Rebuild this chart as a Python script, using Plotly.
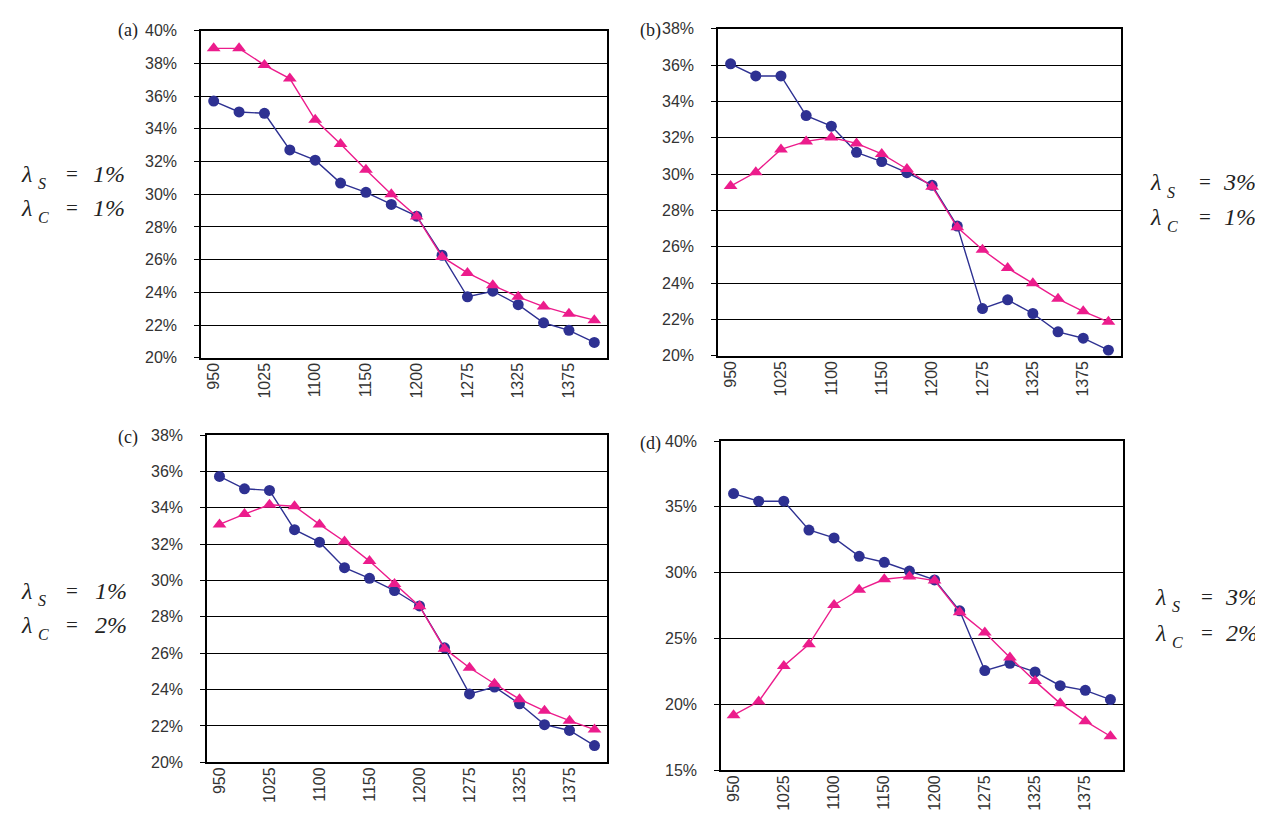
import plotly.graph_objects as go

categories = ["950", "1000", "1025", "1050", "1100", "1125", "1150", "1175",
              "1200", "1250", "1275", "1300", "1325", "1350", "1375", "1400"]
label_categories = categories[::2]

a_blue = [35.7, 35.03, 34.95, 32.71, 32.08, 30.68, 30.12, 29.38, 28.66, 26.27, 23.73, 24.07, 23.25, 22.14, 21.68, 20.94]
a_pink = [38.92, 38.92, 37.9, 37.07, 34.55, 33.07, 31.5, 30.0, 28.64, 26.17, 25.19, 24.43, 23.73, 23.13, 22.69, 22.3]

b_blue = [36.07, 35.4, 35.4, 33.22, 32.64, 31.2, 30.69, 30.08, 29.38, 27.14, 22.6, 23.08, 22.33, 21.32, 20.97, 20.31]
b_pink = [29.34, 30.1, 31.36, 31.8, 32.01, 31.69, 31.11, 30.28, 29.31, 27.07, 25.84, 24.83, 23.99, 23.14, 22.45, 21.87]

c_blue = [35.73, 35.05, 34.96, 32.8, 32.11, 30.71, 30.12, 29.45, 28.6, 26.3, 23.76, 24.14, 23.22, 22.07, 21.75, 20.92]
c_pink = [33.09, 33.66, 34.17, 34.09, 33.09, 32.15, 31.07, 29.81, 28.59, 26.25, 25.2, 24.32, 23.47, 22.83, 22.29, 21.8]

d_blue = [36.01, 35.43, 35.43, 33.24, 32.64, 31.24, 30.79, 30.12, 29.45, 27.1, 22.56, 23.11, 22.46, 21.41, 21.06, 20.36]
d_pink = [19.17, 20.21, 22.91, 24.56, 27.55, 28.7, 29.5, 29.7, 29.4, 27.0, 25.45, 23.56, 21.76, 20.07, 18.72, 17.57]

panel_labels = ["(a)", "(b)", "(c)", "(d)"]
lam_s = ["1%", "3%", "1%", "3%"]
lam_c = ["1%", "1%", "2%", "2%"]

W, H = 1263, 823
BLUE = "#2E3192"
PINK = "#EC1C8C"
TXT = "#333333"

# plot-area boxes in pixels: left, right, top, bottom
boxes = [(193, 599, 15, 349), (710, 1113, 13, 347), (199, 599, 428, 762), (713, 1115, 434, 770)]
yranges = [(20, 40, 2), (20, 38, 2), (20, 38, 2), (15, 40, 5)]
series = [(a_blue, a_pink), (b_blue, b_pink), (c_blue, c_pink), (d_blue, d_pink)]

fig = go.Figure()
layout = dict(width=W, height=H, margin=dict(l=0, r=0, t=0, b=0),
              paper_bgcolor="white", plot_bgcolor="white", showlegend=False,
              font=dict(family="Liberation Sans", size=16, color=TXT))
annotations = []
n = len(categories)

for k in range(4):
    l, r, t, b = boxes[k]
    sfx = "" if k == 0 else str(k + 1)
    xa, ya = "x" + sfx, "y" + sfx
    blue, pink = series[k]
    fig.add_trace(go.Scatter(x=categories, y=blue, xaxis=xa, yaxis=ya, mode="lines+markers",
                             line=dict(color=BLUE, width=1.4),
                             marker=dict(symbol="circle", size=11, color=BLUE)))
    fig.add_trace(go.Scatter(x=categories, y=pink, xaxis=xa, yaxis=ya, mode="lines+markers",
                             line=dict(color=PINK, width=1.4),
                             marker=dict(symbol="triangle-up", size=12, color=PINK)))
    y0, y1, dt = yranges[k]
    layout["xaxis" + sfx] = dict(domain=[l / W, r / W], anchor=ya, type="category",
                                 categoryorder="array", categoryarray=categories,
                                 tickmode="array", tickvals=label_categories,
                                 ticks="", tickangle=-90, showgrid=False,
                                 showline=True, linecolor="black", linewidth=1.5, mirror=True,
                                 range=[-0.5, n - 0.5], ticklabelstandoff=-3,
                                 tickfont=dict(size=16, color=TXT))
    # overlay axis carrying the category-boundary tick marks
    ox = "xaxis" + str(k + 5)
    layout[ox] = dict(domain=[l / W, r / W], anchor=ya, overlaying=xa, side="bottom",
                      type="linear", range=[-0.5, n - 0.5], tick0=-0.5, dtick=1,
                      ticks="outside", ticklen=5, tickcolor="black", showticklabels=False,
                      showgrid=False, zeroline=False, showline=False)
    layout["yaxis" + sfx] = dict(domain=[1 - b / H, 1 - t / H], anchor=xa,
                                 range=[y0, y1], dtick=dt, tick0=y0, ticksuffix="%",
                                 ticks="outside", ticklen=5, tickcolor="black",
                                 showgrid=True, gridcolor="black", gridwidth=1,
                                 showline=True, linecolor="black", linewidth=1.5, mirror=True,
                                 zeroline=False, ticklabelstandoff=14,
                                 tickfont=dict(size=16, color=TXT))

serif_fam = "Liberation Serif"
ital = dict(family=serif_fam, size=24, color="#222222", style="italic")
ital_sub = dict(family=serif_fam, size=16, color="#222222", style="italic")
plain = dict(family=serif_fam, size=21, color="#222222")
lab_pos = [(120, 15), (642, 15), (120, 430), (642, 437)]
for k in range(4):
    x, y = lab_pos[k]
    annotations.append(dict(x=x / W, y=1 - y / H, xref="paper", yref="paper", text=panel_labels[k],
                            showarrow=False, xanchor="center", yanchor="middle",
                            font=dict(family=serif_fam, size=18, color="#222222")))

# lambda parameter blocks: (x of lambda, x of '=', x of value-right, y row1, y row2)
lam_pos = [(11, 64, 119, 161, 196), (1140, 1197, 1250, 170, 205),
           (11, 64, 121, 587, 622), (1145, 1199, 1252, 593, 630)]
for k in range(4):
    xl, xe, xv, r1, r2 = lam_pos[k]
    for yy, sub, val in [(r1, "S", lam_s[k]), (r2, "C", lam_c[k])]:
        annotations.append(dict(x=xl / W, y=1 - yy / H, xref="paper", yref="paper",
                                text="λ", showarrow=False,
                                xanchor="left", yanchor="middle", font=ital))
        annotations.append(dict(x=(xl + 17) / W, y=1 - (yy + 10) / H, xref="paper", yref="paper",
                                text=sub, showarrow=False,
                                xanchor="left", yanchor="middle", font=ital_sub))
        annotations.append(dict(x=xe / W, y=1 - yy / H, xref="paper", yref="paper",
                                text="=", showarrow=False, xanchor="center", yanchor="middle", font=plain))
        annotations.append(dict(x=xv / W, y=1 - yy / H, xref="paper", yref="paper",
                                text=val, showarrow=False, xanchor="right",
                                yanchor="middle", font=ital))

layout["annotations"] = annotations
fig.update_layout(**layout)
fig.write_html("out.html")
